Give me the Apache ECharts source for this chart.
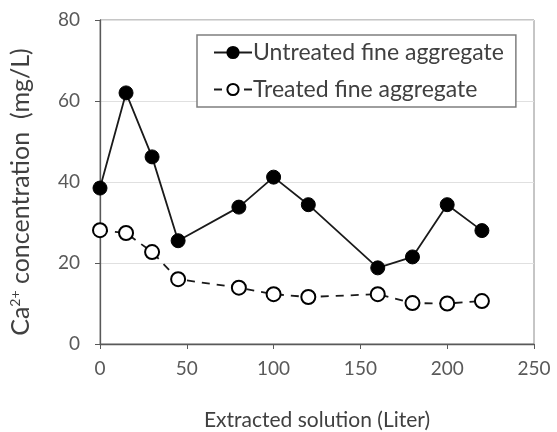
<!DOCTYPE html>
<html>
<head>
<meta charset="utf-8">
<script src="https://cdn.jsdelivr.net/npm/echarts@6/dist/echarts.min.js"></script>
<style>
  html, body { margin: 0; padding: 0; background: #fff; }
  #mychart { width: 557px; height: 432px; }
</style>
</head>
<body>
<div id="mychart"></div>
<script>
"use strict";
const volumes = [0, 15, 30, 45, 80, 100, 120, 160, 180, 200, 220];
const untreated = [38.5, 62, 46.2, 25.5, 33.8, 41.2, 34.4, 18.8, 21.5, 34.4, 28];
const treated = [28.1, 27.4, 22.7, 16, 13.9, 12.3, 11.6, 12.3, 10.1, 10, 10.6];
const seriesNames = ['Untreated fine aggregate', 'Treated fine aggregate'];
const xTicks = [0, 50, 100, 150, 200, 250];
const yTicks = [0, 20, 40, 60, 80];

const font = 'Lato, "Open Sans", sans-serif';
const container = document.getElementById('mychart');
const myChart = echarts.init(container);

function pairs(ys) {
    return volumes.map((x, i) => [x, ys[i]]);
}

const option = {
    animation: false,
    grid: {
        left: 100,
        right: 23,
        top: 20,
        bottom: 88,
        outerBoundsMode: 'none',
        show: true,
        borderColor: '#8c8c8c',
        borderWidth: 1
    },
    legend: {
        orient: 'vertical',
        left: 197,
        top: 35,
        padding: [6, 12, 6, 16],
        itemGap: 14,
        itemWidth: 38,
        itemHeight: 14,
        borderColor: '#7f7f7f',
        borderWidth: 1.5,
        backgroundColor: '#fff',
        textStyle: { fontFamily: font, fontSize: 23, color: '#404040', padding: [0, 0, 0, -4] },
        data: seriesNames
    },
    xAxis: {
        type: 'value',
        min: xTicks[0],
        max: xTicks[xTicks.length - 1],
        interval: 50,
        name: 'Extracted solution (Liter)',
        nameLocation: 'middle',
        nameGap: 66,
        nameTextStyle: { fontFamily: font, fontSize: 21, color: '#404040' },
        axisLine: { lineStyle: { color: '#595959', width: 1.3 } },
        axisTick: { show: true, inside: false, length: 5, lineStyle: { color: '#595959' } },
        axisLabel: { fontFamily: font, fontSize: 19, color: '#595959', margin: 15 },
        splitLine: { show: false }
    },
    yAxis: {
        type: 'value',
        min: yTicks[0],
        max: yTicks[yTicks.length - 1],
        interval: 20,
        name: 'Ca{sup|2+} concentration  (mg/L)',
        nameLocation: 'middle',
        nameGap: 66,
        nameTextStyle: {
            fontFamily: font, fontSize: 25, color: '#404040',
            padding: [0, 20, 0, 0],
            rich: {
                sup: { fontFamily: font, fontSize: 14, color: '#404040', verticalAlign: 'top', padding: [0, 0, 12, 0] }
            }
        },
        axisLine: { show: true, lineStyle: { color: '#595959', width: 1.3 } },
        axisTick: { show: true, inside: false, length: 5, lineStyle: { color: '#595959' } },
        axisLabel: { fontFamily: font, fontSize: 19, color: '#595959', margin: 20 },
        splitLine: { show: true, lineStyle: { color: '#e0e0e0', width: 1 } }
    },
    series: [
        {
            name: seriesNames[0],
            type: 'line',
            data: pairs(untreated),
            symbol: 'circle',
            symbolSize: 14,
            itemStyle: { color: '#000', borderColor: '#000', borderWidth: 1 },
            lineStyle: { color: '#1a1a1a', width: 1.8 },
            z: 3
        },
        {
            name: seriesNames[1],
            type: 'line',
            data: pairs(treated),
            symbol: 'circle',
            symbolSize: 14,
            showAllSymbol: true,
            itemStyle: { color: '#fff', borderColor: '#000', borderWidth: 2 },
            lineStyle: { color: '#1a1a1a', width: 1.8, type: [8, 7] },
            z: 2
        }
    ]
};
myChart.setOption(option);
</script>
</body>
</html>
